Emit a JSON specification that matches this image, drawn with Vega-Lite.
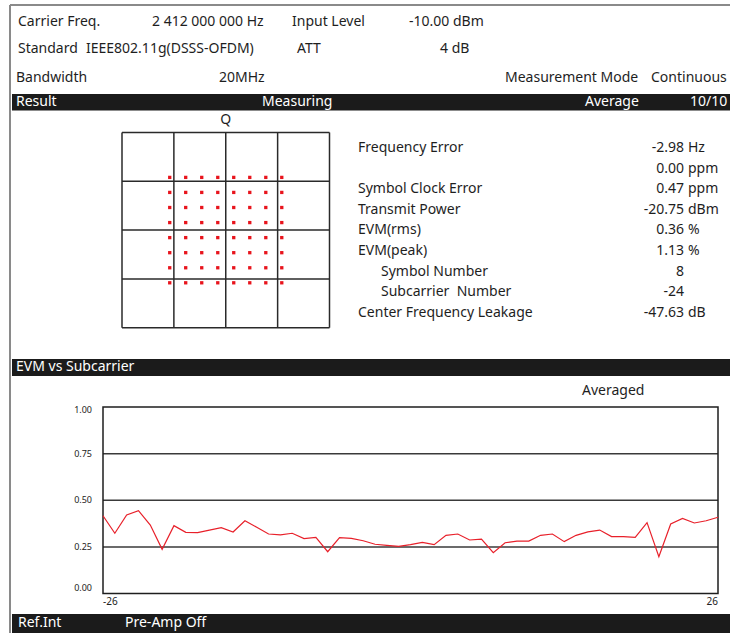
{
  "$schema": "https://vega.github.io/schema/vega-lite/v6.json",
  "width": 730,
  "height": 633,
  "autosize": {"type": "none"},
  "padding": 0,
  "background": "white",
  "config": {"view": {"stroke": null}, "text": {"font": "Noto Sans"}},
  "datasets": {
    "frame": [
      {"x1": 10, "y1": 5, "x2": 730, "y2": 5},
      {"x1": 10, "y1": 5, "x2": 10, "y2": 633}
    ],
    "bars": [
      {"section": "Result", "top": 94, "bottom": 110.5},
      {"section": "EVM vs Subcarrier", "top": 359, "bottom": 376},
      {"section": "Ref.Int", "top": 614, "bottom": 633}
    ],
    "darkText": [
      {"text": "Carrier Freq.", "x": 18, "y": 22},
      {"text": "2 412 000 000 Hz", "x": 152, "y": 22},
      {"text": "Input Level", "x": 292, "y": 22},
      {"text": "-10.00 dBm", "x": 409, "y": 22},
      {"text": "Standard", "x": 18, "y": 49},
      {"text": "IEEE802.11g(DSSS-OFDM)", "x": 86, "y": 49},
      {"text": "ATT", "x": 297, "y": 49},
      {"text": "4 dB", "x": 440, "y": 49},
      {"text": "Bandwidth", "x": 16, "y": 78},
      {"text": "20MHz", "x": 219, "y": 78},
      {"text": "Measurement Mode", "x": 505, "y": 78},
      {"text": "Continuous", "x": 651, "y": 78},
      {"text": "Averaged", "x": 582, "y": 391}
    ],
    "barText": [
      {"text": "Result", "x": 16, "y": 102},
      {"text": "Measuring", "x": 262, "y": 102},
      {"text": "Average", "x": 585, "y": 102},
      {"text": "10/10", "x": 690, "y": 102},
      {"text": "EVM vs Subcarrier", "x": 16, "y": 367},
      {"text": "Ref.Int", "x": 18, "y": 623},
      {"text": "Pre-Amp Off", "x": 125, "y": 623}
    ],
    "results": [
      {"item": "Frequency Error", "x": 358, "y": 148, "num": "-2.98", "unit": "Hz"},
      {"item": "", "x": 358, "y": 169, "num": "0.00", "unit": "ppm"},
      {"item": "Symbol Clock Error", "x": 358, "y": 189, "num": "0.47", "unit": "ppm"},
      {"item": "Transmit Power", "x": 358, "y": 210, "num": "-20.75", "unit": "dBm"},
      {"item": "EVM(rms)", "x": 358, "y": 230, "num": "0.36", "unit": "%"},
      {"item": "EVM(peak)", "x": 358, "y": 251, "num": "1.13", "unit": "%"},
      {"item": "Symbol Number", "x": 381, "y": 272, "num": "8", "unit": ""},
      {"item": "Subcarrier\u00a0 Number", "x": 381, "y": 292, "num": "-24", "unit": ""},
      {"item": "Center Frequency Leakage", "x": 358, "y": 313, "num": "-47.63", "unit": "dB"}
    ],
    "qgrid": [{"v": -2}, {"v": -1}, {"v": 0}, {"v": 1}, {"v": 2}],
    "qam": [
      {"I": -1.080, "Q": -1.080}, {"I": -1.080, "Q": -0.772}, {"I": -1.080, "Q": -0.463}, {"I": -1.080, "Q": -0.154},
      {"I": -1.080, "Q": 0.154}, {"I": -1.080, "Q": 0.463}, {"I": -1.080, "Q": 0.772}, {"I": -1.080, "Q": 1.080},
      {"I": -0.772, "Q": -1.080}, {"I": -0.772, "Q": -0.772}, {"I": -0.772, "Q": -0.463}, {"I": -0.772, "Q": -0.154},
      {"I": -0.772, "Q": 0.154}, {"I": -0.772, "Q": 0.463}, {"I": -0.772, "Q": 0.772}, {"I": -0.772, "Q": 1.080},
      {"I": -0.463, "Q": -1.080}, {"I": -0.463, "Q": -0.772}, {"I": -0.463, "Q": -0.463}, {"I": -0.463, "Q": -0.154},
      {"I": -0.463, "Q": 0.154}, {"I": -0.463, "Q": 0.463}, {"I": -0.463, "Q": 0.772}, {"I": -0.463, "Q": 1.080},
      {"I": -0.154, "Q": -1.080}, {"I": -0.154, "Q": -0.772}, {"I": -0.154, "Q": -0.463}, {"I": -0.154, "Q": -0.154},
      {"I": -0.154, "Q": 0.154}, {"I": -0.154, "Q": 0.463}, {"I": -0.154, "Q": 0.772}, {"I": -0.154, "Q": 1.080},
      {"I": 0.154, "Q": -1.080}, {"I": 0.154, "Q": -0.772}, {"I": 0.154, "Q": -0.463}, {"I": 0.154, "Q": -0.154},
      {"I": 0.154, "Q": 0.154}, {"I": 0.154, "Q": 0.463}, {"I": 0.154, "Q": 0.772}, {"I": 0.154, "Q": 1.080},
      {"I": 0.463, "Q": -1.080}, {"I": 0.463, "Q": -0.772}, {"I": 0.463, "Q": -0.463}, {"I": 0.463, "Q": -0.154},
      {"I": 0.463, "Q": 0.154}, {"I": 0.463, "Q": 0.463}, {"I": 0.463, "Q": 0.772}, {"I": 0.463, "Q": 1.080},
      {"I": 0.772, "Q": -1.080}, {"I": 0.772, "Q": -0.772}, {"I": 0.772, "Q": -0.463}, {"I": 0.772, "Q": -0.154},
      {"I": 0.772, "Q": 0.154}, {"I": 0.772, "Q": 0.463}, {"I": 0.772, "Q": 0.772}, {"I": 0.772, "Q": 1.080},
      {"I": 1.080, "Q": -1.080}, {"I": 1.080, "Q": -0.772}, {"I": 1.080, "Q": -0.463}, {"I": 1.080, "Q": -0.154},
      {"I": 1.080, "Q": 0.154}, {"I": 1.080, "Q": 0.463}, {"I": 1.080, "Q": 0.772}, {"I": 1.080, "Q": 1.080}
    ],
    "evmgrid": [{"g": 0.25}, {"g": 0.5}, {"g": 0.75}],
    "yticks": [
      {"t": 0, "lab": "0.00"}, {"t": 0.25, "lab": "0.25"}, {"t": 0.5, "lab": "0.50"}, {"t": 0.75, "lab": "0.75"}, {"t": 1, "lab": "1.00"}
    ],
    "xticks": [{"s": -26, "lab": "-26"}, {"s": 26, "lab": "26"}],
    "evm": [
      {"sc": -26, "evm": 0.417}, {"sc": -25, "evm": 0.323}, {"sc": -24, "evm": 0.421}, {"sc": -23, "evm": 0.444},
      {"sc": -22, "evm": 0.367}, {"sc": -21, "evm": 0.237}, {"sc": -20, "evm": 0.364}, {"sc": -19, "evm": 0.328},
      {"sc": -18, "evm": 0.326}, {"sc": -17, "evm": 0.340}, {"sc": -16, "evm": 0.353}, {"sc": -15, "evm": 0.330},
      {"sc": -14, "evm": 0.390}, {"sc": -13, "evm": 0.355}, {"sc": -12, "evm": 0.319}, {"sc": -11, "evm": 0.314},
      {"sc": -10, "evm": 0.323}, {"sc": -9, "evm": 0.294}, {"sc": -8, "evm": 0.301}, {"sc": -7, "evm": 0.224},
      {"sc": -6, "evm": 0.299}, {"sc": -5, "evm": 0.296}, {"sc": -4, "evm": 0.283}, {"sc": -3, "evm": 0.264},
      {"sc": -2, "evm": 0.258}, {"sc": -1, "evm": 0.253}, {"sc": 0, "evm": 0.262}, {"sc": 1, "evm": 0.274},
      {"sc": 2, "evm": 0.262}, {"sc": 3, "evm": 0.312}, {"sc": 4, "evm": 0.319}, {"sc": 5, "evm": 0.287},
      {"sc": 6, "evm": 0.292}, {"sc": 7, "evm": 0.219}, {"sc": 8, "evm": 0.272}, {"sc": 9, "evm": 0.281},
      {"sc": 10, "evm": 0.281}, {"sc": 11, "evm": 0.312}, {"sc": 12, "evm": 0.319}, {"sc": 13, "evm": 0.278},
      {"sc": 14, "evm": 0.312}, {"sc": 15, "evm": 0.330}, {"sc": 16, "evm": 0.340}, {"sc": 17, "evm": 0.305},
      {"sc": 18, "evm": 0.305}, {"sc": 19, "evm": 0.301}, {"sc": 20, "evm": 0.380}, {"sc": 21, "evm": 0.197},
      {"sc": 22, "evm": 0.373}, {"sc": 23, "evm": 0.403}, {"sc": 24, "evm": 0.378}, {"sc": 25, "evm": 0.390},
      {"sc": 26, "evm": 0.409}
    ]
  },
  "layer": [
    {
      "layer": [
        {
          "data": {"name": "frame"},
          "mark": {"type": "rule", "color": "#8a8a8a", "strokeWidth": 2},
          "encoding": {
            "x": {"field": "x1", "type": "quantitative", "scale": {"domain": [0, 730], "range": [0, 730], "nice": false, "zero": false}, "axis": null},
            "y": {"field": "y1", "type": "quantitative", "scale": {"domain": [0, 633], "range": [0, 633], "nice": false, "zero": false}, "axis": null},
            "x2": {"field": "x2"},
            "y2": {"field": "y2"}
          }
        },
        {
          "data": {"name": "bars"},
          "mark": {"type": "rect", "color": "#1b1b1b"},
          "encoding": {
            "x": {"datum": 12, "type": "quantitative", "scale": {"domain": [0, 730], "range": [0, 730], "nice": false, "zero": false}, "axis": null},
            "x2": {"datum": 730},
            "y": {"field": "top", "type": "quantitative", "scale": {"domain": [0, 633], "range": [0, 633], "nice": false, "zero": false}, "axis": null},
            "y2": {"field": "bottom"}
          }
        },
        {
          "data": {"name": "darkText"},
          "mark": {"type": "text", "align": "left", "baseline": "middle", "fontSize": 14, "color": "#1e1e1e"},
          "encoding": {
            "x": {"field": "x", "type": "quantitative", "scale": {"domain": [0, 730], "range": [0, 730], "nice": false, "zero": false}, "axis": null},
            "y": {"field": "y", "type": "quantitative", "scale": {"domain": [0, 633], "range": [0, 633], "nice": false, "zero": false}, "axis": null},
            "text": {"field": "text"}
          }
        },
        {
          "data": {"name": "barText"},
          "mark": {"type": "text", "align": "left", "baseline": "middle", "fontSize": 14, "color": "#ffffff"},
          "encoding": {
            "x": {"field": "x", "type": "quantitative", "scale": {"domain": [0, 730], "range": [0, 730], "nice": false, "zero": false}, "axis": null},
            "y": {"field": "y", "type": "quantitative", "scale": {"domain": [0, 633], "range": [0, 633], "nice": false, "zero": false}, "axis": null},
            "text": {"field": "text"}
          }
        },
        {
          "data": {"name": "results"},
          "mark": {"type": "text", "align": "left", "baseline": "middle", "fontSize": 14, "color": "#1e1e1e"},
          "encoding": {
            "x": {"field": "x", "type": "quantitative", "scale": {"domain": [0, 730], "range": [0, 730], "nice": false, "zero": false}, "axis": null},
            "y": {"field": "y", "type": "quantitative", "scale": {"domain": [0, 633], "range": [0, 633], "nice": false, "zero": false}, "axis": null},
            "text": {"field": "item"}
          }
        },
        {
          "data": {"name": "results"},
          "mark": {"type": "text", "align": "right", "baseline": "middle", "fontSize": 14, "color": "#1e1e1e"},
          "encoding": {
            "x": {"datum": 684, "type": "quantitative", "scale": {"domain": [0, 730], "range": [0, 730], "nice": false, "zero": false}, "axis": null},
            "y": {"field": "y", "type": "quantitative", "scale": {"domain": [0, 633], "range": [0, 633], "nice": false, "zero": false}, "axis": null},
            "text": {"field": "num"}
          }
        },
        {
          "data": {"name": "results"},
          "mark": {"type": "text", "align": "left", "baseline": "middle", "fontSize": 14, "color": "#1e1e1e"},
          "encoding": {
            "x": {"datum": 688, "type": "quantitative", "scale": {"domain": [0, 730], "range": [0, 730], "nice": false, "zero": false}, "axis": null},
            "y": {"field": "y", "type": "quantitative", "scale": {"domain": [0, 633], "range": [0, 633], "nice": false, "zero": false}, "axis": null},
            "text": {"field": "unit"}
          }
        }
      ]
    },
    {
      "layer": [
        {
          "data": {"name": "qgrid"},
          "mark": {"type": "rule", "color": "#2a2a2a", "strokeWidth": 1.5},
          "encoding": {
            "x": {"field": "v", "type": "quantitative", "scale": {"domain": [-2, 2], "range": [122, 329.5], "nice": false, "zero": false}, "axis": null},
            "y": {"datum": -2, "type": "quantitative", "scale": {"domain": [-2, 2], "range": [327.7, 132.5], "nice": false, "zero": false}, "axis": null},
            "y2": {"datum": 2}
          }
        },
        {
          "data": {"name": "qgrid"},
          "mark": {"type": "rule", "color": "#2a2a2a", "strokeWidth": 1.5},
          "encoding": {
            "y": {"field": "v", "type": "quantitative", "scale": {"domain": [-2, 2], "range": [327.7, 132.5], "nice": false, "zero": false}, "axis": null},
            "x": {"datum": -2, "type": "quantitative", "scale": {"domain": [-2, 2], "range": [122, 329.5], "nice": false, "zero": false}, "axis": null},
            "x2": {"datum": 2}
          }
        },
        {
          "data": {"name": "qam"},
          "mark": {"type": "square", "size": 11, "color": "#e8141c", "opacity": 1, "filled": true},
          "encoding": {
            "x": {"field": "I", "type": "quantitative", "scale": {"domain": [-2, 2], "range": [122, 329.5], "nice": false, "zero": false}, "axis": null},
            "y": {"field": "Q", "type": "quantitative", "scale": {"domain": [-2, 2], "range": [327.7, 132.5], "nice": false, "zero": false}, "axis": null}
          }
        },
        {
          "data": {"values": [{"label": "Q"}]},
          "mark": {"type": "text", "fontSize": 14, "color": "#1e1e1e", "baseline": "middle", "align": "center", "dy": -13},
          "encoding": {
            "x": {"datum": 0, "type": "quantitative", "scale": {"domain": [-2, 2], "range": [122, 329.5], "nice": false, "zero": false}, "axis": null},
            "y": {"datum": 2, "type": "quantitative", "scale": {"domain": [-2, 2], "range": [327.7, 132.5], "nice": false, "zero": false}, "axis": null},
            "text": {"field": "label"}
          }
        }
      ]
    },
    {
      "layer": [
        {
          "data": {"name": "evmgrid"},
          "mark": {"type": "rule", "color": "#3a3a3a", "strokeWidth": 1.5},
          "encoding": {
            "y": {"field": "g", "type": "quantitative", "scale": {"domain": [0, 1], "range": [593.5, 407], "nice": false, "zero": false}, "axis": null},
            "x": {"datum": -26, "type": "quantitative", "scale": {"domain": [-26, 26], "range": [103, 718], "nice": false, "zero": false}, "axis": null},
            "x2": {"datum": 26}
          }
        },
        {
          "data": {"values": [{"lo": 0, "hi": 1, "first": -26, "last": 26}]},
          "mark": {"type": "rect", "filled": false, "stroke": "#1e1e1e", "strokeWidth": 1.5},
          "encoding": {
            "x": {"field": "first", "type": "quantitative", "scale": {"domain": [-26, 26], "range": [103, 718], "nice": false, "zero": false}, "axis": null},
            "x2": {"field": "last"},
            "y": {"field": "lo", "type": "quantitative", "scale": {"domain": [0, 1], "range": [593.5, 407], "nice": false, "zero": false}, "axis": null},
            "y2": {"field": "hi"}
          }
        },
        {
          "data": {"name": "yticks"},
          "transform": [{"filter": "datum.t > 0 && datum.t < 1"}],
          "mark": {"type": "text", "align": "right", "baseline": "middle", "fontSize": 9, "color": "#222", "dx": -11},
          "encoding": {
            "x": {"datum": -26, "type": "quantitative", "scale": {"domain": [-26, 26], "range": [103, 718], "nice": false, "zero": false}, "axis": null},
            "y": {"field": "t", "type": "quantitative", "scale": {"domain": [0, 1], "range": [593.5, 407], "nice": false, "zero": false}, "axis": null},
            "text": {"field": "lab"}
          }
        },
        {
          "data": {"name": "yticks"},
          "transform": [{"filter": "datum.t == 0"}],
          "mark": {"type": "text", "align": "right", "baseline": "bottom", "fontSize": 9, "color": "#222", "dx": -11, "dy": -1},
          "encoding": {
            "x": {"datum": -26, "type": "quantitative", "scale": {"domain": [-26, 26], "range": [103, 718], "nice": false, "zero": false}, "axis": null},
            "y": {"field": "t", "type": "quantitative", "scale": {"domain": [0, 1], "range": [593.5, 407], "nice": false, "zero": false}, "axis": null},
            "text": {"field": "lab"}
          }
        },
        {
          "data": {"name": "yticks"},
          "transform": [{"filter": "datum.t == 1"}],
          "mark": {"type": "text", "align": "right", "baseline": "top", "fontSize": 9, "color": "#222", "dx": -11, "dy": -1},
          "encoding": {
            "x": {"datum": -26, "type": "quantitative", "scale": {"domain": [-26, 26], "range": [103, 718], "nice": false, "zero": false}, "axis": null},
            "y": {"field": "t", "type": "quantitative", "scale": {"domain": [0, 1], "range": [593.5, 407], "nice": false, "zero": false}, "axis": null},
            "text": {"field": "lab"}
          }
        },
        {
          "data": {"name": "xticks"},
          "transform": [{"filter": "datum.s < 0"}],
          "mark": {"type": "text", "align": "left", "baseline": "middle", "fontSize": 10, "color": "#222", "dy": 8},
          "encoding": {
            "x": {"field": "s", "type": "quantitative", "scale": {"domain": [-26, 26], "range": [103, 718], "nice": false, "zero": false}, "axis": null},
            "y": {"datum": 0, "type": "quantitative", "scale": {"domain": [0, 1], "range": [593.5, 407], "nice": false, "zero": false}, "axis": null},
            "text": {"field": "lab"}
          }
        },
        {
          "data": {"name": "xticks"},
          "transform": [{"filter": "datum.s > 0"}],
          "mark": {"type": "text", "align": "right", "baseline": "middle", "fontSize": 10, "color": "#222", "dy": 8},
          "encoding": {
            "x": {"field": "s", "type": "quantitative", "scale": {"domain": [-26, 26], "range": [103, 718], "nice": false, "zero": false}, "axis": null},
            "y": {"datum": 0, "type": "quantitative", "scale": {"domain": [0, 1], "range": [593.5, 407], "nice": false, "zero": false}, "axis": null},
            "text": {"field": "lab"}
          }
        },
        {
          "data": {"name": "evm"},
          "mark": {"type": "line", "color": "#e8202a", "strokeWidth": 1.2},
          "encoding": {
            "x": {"field": "sc", "type": "quantitative", "scale": {"domain": [-26, 26], "range": [103, 718], "nice": false, "zero": false}, "axis": null},
            "y": {"field": "evm", "type": "quantitative", "scale": {"domain": [0, 1], "range": [593.5, 407], "nice": false, "zero": false}, "axis": null}
          }
        }
      ]
    }
  ],
  "resolve": {"scale": {"x": "independent", "y": "independent"}}
}
